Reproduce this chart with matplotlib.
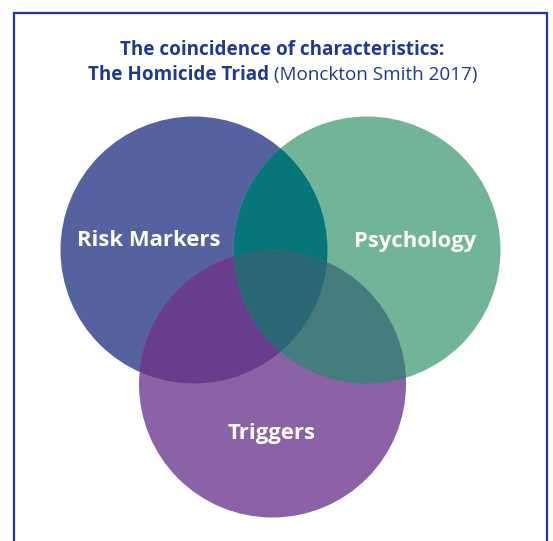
import numpy as np
import matplotlib
matplotlib.use("Agg")
import matplotlib.pyplot as plt
from matplotlib.patches import Circle, Polygon

# --- datos del diagrama ---
set_labels = ["Risk Markers", "Psychology", "Triggers"]
set_colors = ["#5661a0", "#71b498", "#8c62a7"]
pair_colors = {"01": "#07767b", "02": "#683d8f", "12": "#457c7d"}
triple_color = "#2a6876"
title_line1 = "The coincidence of characteristics:"
title_bold = "The Homicide Triad"
title_source = " (Monckton Smith 2017)"

# --- geometría (pixeles) ---
W, H = 553, 541
centers = [(194, 250), (367, 250), (272.5, 384)]
radius = 133.5
label_pos = [(149, 241), (415, 241), (272, 433)]
navy = "#1f3a8f"

plt.rcParams['font.family'] = ['Open Sans', 'DejaVu Sans']

fig = plt.figure(figsize=(W / 100, H / 100), dpi=100)
ax = fig.add_axes([0, 0, 1, 1])
ax.set_xlim(0, W)
ax.set_ylim(H, 0)
ax.axis("off")

# marco
ax.plot([13.5, 13.5, 546.5, 546.5], [H + 5, 12.5, 12.5, H + 5],
        color=navy, lw=1.6, solid_joinstyle="miter")

circles = []
for c, col in zip(centers, set_colors):
    p = Circle(c, radius, facecolor=col, edgecolor="none")
    ax.add_patch(p)
    circles.append(p)


def lens(c1, c2, r, n=400):
    # polígono de la intersección de dos círculos
    c1, c2 = np.array(c1, float), np.array(c2, float)
    d = np.linalg.norm(c2 - c1)
    a = np.arctan2(*(c2 - c1)[::-1])
    h = np.arccos(d / (2 * r))
    t1 = np.linspace(a - h, a + h, n)
    t2 = np.linspace(a + np.pi - h, a + np.pi + h, n)
    p1 = c1 + r * np.c_[np.cos(t1), np.sin(t1)]
    p2 = c2 + r * np.c_[np.cos(t2), np.sin(t2)]
    return np.vstack([p1, p2])


for key, col in pair_colors.items():
    i, j = int(key[0]), int(key[1])
    p = Circle(centers[j], radius, facecolor=col, edgecolor="none")
    ax.add_patch(p)
    p.set_clip_path(circles[i])

lens01 = Polygon(lens(centers[0], centers[1], radius), closed=True,
                 facecolor="none", edgecolor="none")
ax.add_patch(lens01)
p = Circle(centers[2], radius, facecolor=triple_color, edgecolor="none")
ax.add_patch(p)
p.set_clip_path(lens01)

for lab, (x, y) in zip(set_labels, label_pos):
    ax.text(x, y, lab, color="white", fontsize=15.8, fontweight="bold",
            ha="center", va="center")

fs = 13.6
ax.text(282, 50, title_line1, color=navy, fontsize=fs, fontweight="bold",
        ha="center", va="center")
t1 = ax.text(0, 75, title_bold, color=navy, fontsize=fs, fontweight="bold",
             ha="left", va="center")
t2 = ax.text(0, 75, title_source, color=navy, fontsize=fs,
             ha="left", va="center")
fig.canvas.draw()
r = fig.canvas.get_renderer()
w1 = t1.get_window_extent(r).width
w2 = t2.get_window_extent(r).width
x0 = 282.5 - (w1 + w2) / 2
t1.set_x(x0)
t2.set_x(x0 + w1)

fig.savefig("out.png", dpi=100)
